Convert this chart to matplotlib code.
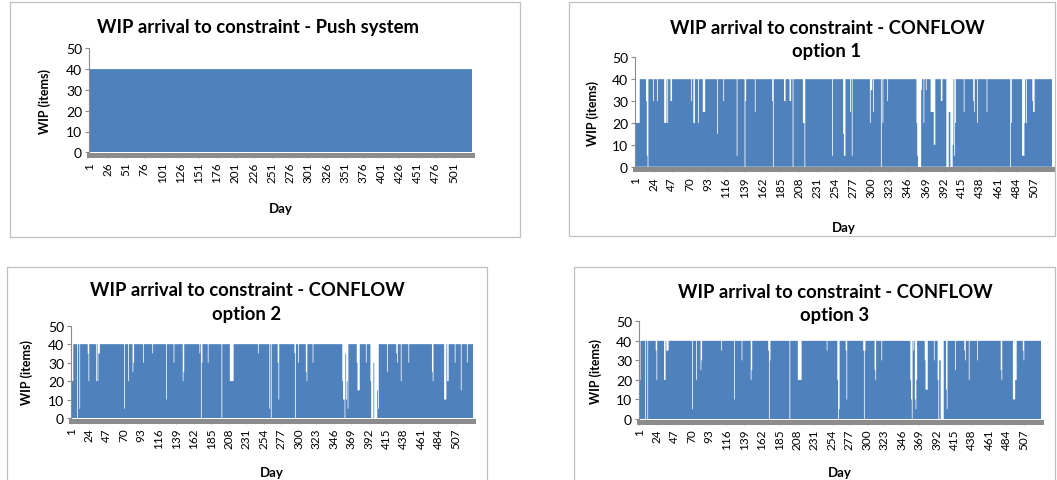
import numpy as np
import matplotlib.pyplot as plt
from matplotlib.patches import Rectangle

# ---------------------------------------------------------------------------
# Daily WIP arriving at the constraint (items). Every day carries the full
# release of 40 items except the days listed in each dips table.
# ---------------------------------------------------------------------------
FULL_LOAD = 40
PUSH_DAYS = 525
CONFLOW_DAYS = 529

push_dips = {}

option1_dips = {
    1: 20, 2: 20, 3: 20, 4: 20, 5: 20, 6: 20,
    15: 30, 16: 5, 17: 0, 24: 30, 29: 30,
    38: 20, 39: 20, 40: 20, 42: 20, 46: 30, 47: 30,
    72: 30, 75: 20, 76: 20, 81: 20, 87: 25, 88: 25, 89: 25,
    105: 15, 113: 30, 130: 5, 140: 0, 141: 30, 153: 25,
    175: 30, 176: 0, 190: 30, 191: 30, 197: 30, 198: 30, 201: 0,
    214: 20, 215: 20, 216: 0, 251: 5, 265: 15, 266: 5, 267: 5,
    274: 25, 276: 5, 299: 20, 300: 35, 301: 35, 303: 25,
    313: 0, 315: 20, 321: 30,
    358: 20, 359: 5, 360: 0, 361: 0, 362: 0, 363: 0, 364: 35, 367: 20, 370: 35,
    376: 25, 377: 25, 378: 25, 379: 25, 380: 10, 381: 10, 389: 30, 390: 30,
    396: 0, 397: 0, 398: 0, 399: 25, 400: 25, 401: 0, 402: 0, 403: 0,
    404: 10, 406: 5, 407: 20,
    418: 25, 430: 30, 431: 25, 435: 20, 447: 25, 477: 0, 478: 20,
    492: 5, 493: 5, 494: 5, 495: 20, 497: 20, 505: 30, 506: 25, 507: 25,
}

option2_dips = {
    1: 20, 2: 20, 3: 20, 9: 0, 12: 5, 23: 35, 24: 20,
    34: 20, 36: 20, 37: 35, 38: 35,
    71: 5, 76: 20, 82: 25, 83: 30, 96: 30, 108: 35, 126: 10, 136: 30,
    148: 20, 149: 25, 170: 35, 172: 0, 173: 30, 181: 30, 199: 0,
    210: 20, 211: 20, 212: 20, 213: 20, 214: 20,
    247: 35, 262: 5, 264: 0, 273: 30, 274: 10, 295: 35, 296: 0, 300: 30,
    310: 25, 311: 20, 319: 30,
    358: 20, 359: 10, 360: 10, 361: 0, 362: 35, 363: 10, 364: 20, 365: 5,
    377: 30, 378: 15, 379: 15, 380: 15, 389: 30,
    395: 20, 396: 0, 397: 0, 398: 0, 399: 30, 400: 0, 401: 0, 402: 0, 403: 0,
    404: 15, 405: 5,
    417: 25, 429: 35, 430: 30, 435: 20, 445: 30, 476: 25, 477: 20,
    492: 10, 493: 10, 494: 10, 496: 20, 497: 20, 506: 30, 514: 15, 522: 30,
}

option3_dips = {
    1: 20, 2: 20, 9: 0, 12: 0, 23: 35, 24: 20,
    34: 20, 35: 20, 37: 35, 38: 35, 39: 35,
    71: 5, 76: 20, 82: 25, 83: 30, 109: 35, 126: 10, 136: 30,
    148: 20, 149: 25, 171: 35, 172: 0, 173: 30, 199: 0,
    210: 20, 211: 20, 212: 20, 213: 20, 214: 20,
    248: 35, 262: 20, 263: 0, 264: 5, 273: 35, 274: 10,
    296: 35, 297: 0, 298: 35, 311: 25, 312: 20, 320: 30,
    358: 20, 359: 10, 360: 0, 362: 35, 364: 10, 365: 5, 366: 20,
    377: 30, 378: 15, 379: 15, 380: 15, 389: 30,
    394: 20, 395: 0, 396: 30, 397: 30, 398: 0, 399: 0, 400: 0, 401: 0,
    405: 15, 406: 5,
    417: 25, 429: 35, 430: 30, 435: 20, 446: 30, 477: 25, 478: 20,
    493: 10, 494: 10, 495: 10, 496: 20, 497: 20, 506: 35, 507: 30,
}

push_ticks = list(range(1, 502, 25))
conflow_ticks = list(range(1, 508, 23))
y_ticks = [0, 10, 20, 30, 40, 50]

BAR_BLUE = "#4F81BD"
AXIS_GREY = "#8C8C8C"
FRAME_GREY = "#BFBFBF"
FONT = ["Lato", "DejaVu Sans"]

W, H = 1057, 481
plt.rcParams["font.family"] = FONT


def daily_series(n_days, dips):
    wip = np.full(n_days, FULL_LOAD, dtype=float)
    for day, value in dips.items():
        wip[day - 1] = value
    return wip


def fig_rect(x0, x1, y_top, y_bot):
    return [x0 / W, 1 - y_bot / H, (x1 - x0) / W, (y_bot - y_top) / H]


panels = [
    dict(title="WIP arrival to constraint - Push system", days=PUSH_DAYS,
         dips=push_dips, ticks=push_ticks, plot=(89, 472, 49.3, 153.3),
         frame=(10, 520, 3, 238), title_xy=(258, 27), ylabel_x=45, xlabel_y=209),
    dict(title="WIP arrival to constraint - CONFLOW\noption 1", days=CONFLOW_DAYS,
         dips=option1_dips, ticks=conflow_ticks, plot=(635, 1052, 58.3, 167.7),
         frame=(569, 1055, 3, 237), title_xy=(827, 40), ylabel_x=593, xlabel_y=227.5),
    dict(title="WIP arrival to constraint - CONFLOW\noption 2", days=CONFLOW_DAYS,
         dips=option2_dips, ticks=conflow_ticks, plot=(71, 473, 326.7, 419),
         frame=(7, 487, 268, 490), title_xy=(247, 302.5), ylabel_x=27, xlabel_y=473),
    dict(title="WIP arrival to constraint - CONFLOW\noption 3", days=CONFLOW_DAYS,
         dips=option3_dips, ticks=conflow_ticks, plot=(639, 1041, 322.3, 420),
         frame=(574, 1055, 268, 490), title_xy=(835, 304), ylabel_x=596, xlabel_y=473),
]

fig = plt.figure(figsize=(W / 100, H / 100), dpi=100)
fig.patch.set_facecolor("white")

for p in panels:
    fx0, fx1, fy0, fy1 = p["frame"]
    fig.add_artist(Rectangle((fx0 / W, 1 - fy1 / H), (fx1 - fx0) / W, (fy1 - fy0) / H,
                             transform=fig.transFigure, fill=False,
                             edgecolor=FRAME_GREY, linewidth=0.9))

    x0, x1, yt, yb = p["plot"]
    ax = fig.add_axes(fig_rect(x0, x1, yt, yb))
    wip = daily_series(p["days"], p["dips"])
    edges = np.arange(p["days"] + 1) + 0.5
    ax.stairs(wip, edges, fill=True, color=BAR_BLUE, linewidth=0, baseline=0)

    ax.set_xlim(0.5, p["days"] + 0.5)
    ax.set_ylim(0, 50)
    ax.set_yticks(y_ticks)
    ax.set_xticks(p["ticks"])
    ax.set_xticklabels([str(t) for t in p["ticks"]])
    ax.set_xticks(np.arange(1, p["days"] + 1), minor=True)
    ax.tick_params(axis="y", labelsize=10, length=3, width=0.8, color=AXIS_GREY, pad=2)
    ax.tick_params(axis="x", which="major", length=2, width=0.4, color=AXIS_GREY,
                   pad=3, labelsize=8.5, labelrotation=90)
    ax.tick_params(axis="x", which="minor", length=2, width=0.3, color="#A6A6A6")

    for side in ("top", "right"):
        ax.spines[side].set_visible(False)
    ax.spines["left"].set_color(AXIS_GREY)
    ax.spines["left"].set_linewidth(0.8)
    ax.spines["bottom"].set_color(AXIS_GREY)
    ax.spines["bottom"].set_linewidth(3.6)
    ax.spines["bottom"].set_position(("outward", 1.8))
    ax.set_facecolor("none")

    ax.set_ylabel("WIP (items)", fontsize=9, fontweight="bold", va="center")
    ax.yaxis.set_label_coords((p["ylabel_x"] - x0) / (x1 - x0), 0.5)
    ax.set_xlabel("Day", fontsize=9.5, fontweight="bold", va="center")
    ax.xaxis.set_label_coords(0.5, (yb - p["xlabel_y"]) / (yb - yt))

    tx, ty = p["title_xy"]
    fig.text(tx / W, 1 - ty / H, p["title"], ha="center", va="center",
             fontsize=13.3, fontweight="bold", linespacing=1.5)

fig.savefig("out.png", dpi=100, facecolor="white")
